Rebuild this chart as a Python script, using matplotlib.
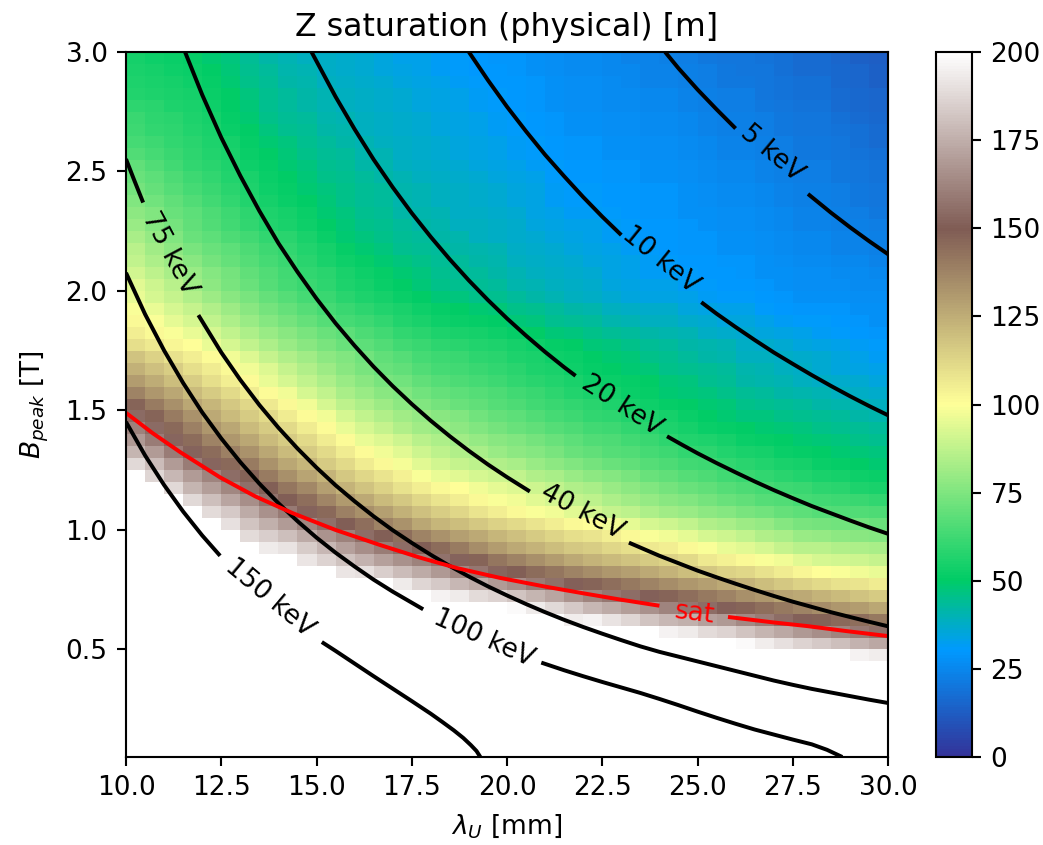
"""Z saturation map with photon energy contours and the saturation limit."""

import numpy as np
import matplotlib
matplotlib.use("Agg")
import matplotlib.pyplot as plt

# Cell values [m], top row (B = 2.95-3.00 T) first, columns lambda_U = 10-30 mm
# in 0.5 mm steps. Everything below the last row is off the colour scale (white).
Z_ROWS = [
    [54,53,52,51,49,47,44,42,40,39,38,37,36,35,33,33,32,31,30,29,29,28,27,26,26,25,24,24,23,22,21,20,20,19,18,17,17,15,14,13],
    [55,54,53,52,50,48,45,43,41,40,38,37,36,35,34,33,32,31,30,30,29,28,27,26,26,25,25,24,24,23,22,21,20,20,18,17,17,16,15,14],
    [56,55,54,53,51,49,46,44,42,41,39,38,37,36,35,34,33,32,31,30,30,29,28,27,27,26,25,24,24,23,22,21,21,20,19,18,18,16,15,14],
    [57,56,55,54,52,50,47,45,43,42,40,39,38,37,36,35,34,33,32,31,30,29,28,27,27,26,26,25,25,24,23,22,22,20,19,18,18,17,16,15],
    [59,58,56,55,53,50,48,45,43,42,40,39,38,37,36,35,34,33,32,31,30,29,28,27,27,26,26,25,25,24,23,22,22,21,20,19,19,17,16,15],
    [61,59,58,56,54,51,49,46,44,43,41,40,39,38,37,36,35,34,33,32,31,30,29,28,28,27,27,26,26,25,24,23,23,22,21,20,20,18,17,16],
    [62,60,59,57,55,52,50,47,45,44,42,41,39,38,37,36,35,34,33,32,31,30,29,28,28,27,27,26,26,25,24,23,23,22,21,20,20,19,18,17],
    [64,62,60,58,56,54,51,49,47,45,43,42,40,39,38,37,36,35,34,33,32,31,30,29,29,28,28,27,27,26,25,24,24,23,22,21,21,20,18,17],
    [66,64,61,59,57,55,52,50,48,46,44,43,41,40,38,37,36,35,34,33,32,31,30,29,29,28,28,27,27,26,25,24,24,23,22,21,21,20,19,18],
    [69,66,63,60,58,56,53,51,49,47,45,44,42,41,39,38,37,36,35,34,33,32,31,30,30,29,29,28,28,27,26,25,25,24,23,22,22,21,20,19],
    [71,68,65,62,60,57,55,52,50,48,46,45,43,42,40,39,38,37,36,35,34,33,31,30,30,29,29,28,28,27,26,25,25,24,23,22,22,21,20,19],
    [73,70,67,64,61,58,56,53,51,49,47,46,44,43,41,40,39,38,37,36,35,34,32,31,31,30,30,29,29,28,27,26,26,25,24,23,23,22,21,20],
    [75,72,69,66,63,60,57,54,52,50,48,46,44,43,41,40,39,38,37,36,35,34,32,31,31,30,30,29,29,28,27,26,26,25,24,23,23,22,21,20],
    [78,75,71,68,65,62,59,56,54,52,49,47,45,44,42,41,40,38,38,37,36,34,33,32,32,31,30,29,29,28,28,27,27,26,25,24,24,23,22,21],
    [80,76,73,69,66,63,60,57,55,53,50,48,46,45,43,42,41,39,39,38,37,35,34,33,33,32,31,30,30,29,28,27,27,26,25,24,24,23,23,22],
    [83,79,75,71,68,65,63,60,58,55,52,49,47,46,44,43,42,41,39,38,37,36,35,34,33,32,31,30,30,29,29,28,28,27,26,25,25,24,24,23],
    [86,82,78,74,71,68,65,62,60,57,54,51,49,47,45,44,43,42,41,40,38,37,36,35,34,33,32,31,30,29,29,28,28,27,26,25,25,24,24,23],
    [88,84,81,77,73,70,67,64,61,58,55,53,51,49,47,46,44,43,42,41,39,38,37,36,35,34,33,32,31,30,30,29,29,28,27,26,26,25,25,24],
    [91,87,83,80,76,73,69,66,63,60,58,55,53,51,49,47,45,44,43,42,40,39,38,37,36,34,33,32,32,31,30,30,29,28,28,27,27,26,26,25],
    [94,90,86,82,78,74,71,67,64,61,59,56,54,52,50,48,46,45,44,43,41,40,39,38,37,35,34,33,33,32,31,30,30,29,28,27,27,27,26,26],
    [96,92,89,85,81,77,74,70,67,64,61,58,56,54,52,50,48,47,46,45,43,42,40,39,38,36,35,34,34,33,32,31,31,30,29,28,28,28,27,27],
    [99,96,92,89,85,81,77,73,70,67,64,61,59,57,55,53,51,50,49,48,46,45,43,42,41,39,38,37,37,35,34,33,33,31,30,29,29,29,28,28],
    [102,99,95,92,88,84,80,76,73,70,67,64,62,60,57,55,53,52,51,50,48,47,45,44,43,41,40,39,39,37,36,35,35,33,32,31,31,30,29,28],
    [105,102,99,96,92,88,84,80,77,74,71,68,65,63,60,58,56,55,54,53,51,50,48,47,46,44,43,42,41,40,38,37,36,35,34,33,32,31,30,29],
    [110,107,103,100,96,92,88,84,80,77,74,71,68,66,63,61,59,58,57,56,54,53,51,50,48,47,46,44,43,42,41,40,38,37,36,35,34,33,32,31],
    [118,114,109,105,101,97,93,89,85,82,78,75,72,69,67,64,62,61,59,58,56,55,53,52,50,49,48,46,45,43,42,41,39,39,38,37,36,35,33,32],
    [124,119,115,110,106,102,97,93,89,85,81,77,74,71,69,66,64,63,61,60,58,56,55,53,51,50,49,48,46,45,44,43,41,40,39,38,36,35,34,33],
    [130,125,120,115,110,105,101,96,92,88,84,80,77,74,72,69,67,65,64,62,60,58,57,55,53,52,51,50,48,47,45,44,42,41,40,39,38,37,36,35],
    [138,132,127,121,116,111,106,101,97,92,88,83,80,77,75,72,70,68,67,65,63,61,59,57,55,54,52,51,49,48,47,46,44,43,42,41,40,39,38,37],
    [147,140,134,127,122,117,112,107,102,97,92,87,84,81,78,75,73,71,69,67,65,63,61,60,58,56,54,53,51,50,49,48,46,45,44,43,42,41,40,39],
    [154,147,140,133,126,121,116,111,106,101,97,92,88,85,82,79,77,75,72,70,68,66,64,62,60,59,57,56,54,52,50,49,47,47,46,45,44,43,42,41],
    [161,154,146,139,132,127,121,116,111,106,101,96,92,89,85,82,80,78,75,73,71,69,67,65,63,62,60,58,56,54,52,51,50,49,48,47,46,45,44,43],
    [168,160,153,145,138,132,127,121,116,111,106,101,96,93,90,86,84,82,79,77,75,73,71,68,66,65,63,61,59,57,56,54,52,51,50,49,48,47,46,45],
    [177,169,160,152,145,139,133,127,121,116,111,106,101,97,94,90,87,85,83,80,78,76,74,71,69,67,66,64,62,60,59,57,55,54,52,51,50,49,48,47],
    [188,179,169,160,153,146,140,133,127,122,116,111,106,102,98,94,91,89,87,85,83,80,78,75,73,71,69,67,65,63,62,60,58,57,55,54,52,51,50,49],
    [200,187,178,169,162,155,148,140,134,128,123,117,112,108,104,99,96,94,92,90,88,85,83,80,78,76,74,71,69,67,65,63,61,60,58,57,55,54,53,52],
    [200,200,188,177,170,163,156,149,142,136,129,123,118,114,109,105,102,100,97,95,93,90,88,85,83,80,78,75,73,71,69,67,65,64,62,61,59,58,56,55],
    [200,200,200,188,180,172,165,157,150,144,137,131,126,121,117,112,108,105,102,99,97,94,92,89,87,84,82,79,77,75,73,71,69,67,66,64,63,62,61,60],
    [200,200,200,200,189,183,174,166,159,152,146,139,134,129,124,119,115,112,108,105,102,99,97,94,92,89,87,84,82,80,78,76,74,72,70,68,67,66,66,65],
    [200,200,200,200,200,190,182,175,169,163,156,150,144,138,133,127,122,120,117,114,111,108,105,102,100,97,95,92,90,88,85,83,81,79,76,74,73,72,72,71],
    [200,200,200,200,200,200,189,185,180,174,167,161,155,149,144,138,133,129,126,122,119,116,113,110,108,105,102,99,97,95,92,90,88,85,83,80,79,78,77,76],
    [200,200,200,200,200,200,200,193,191,184,178,171,165,160,155,150,145,140,135,130,126,123,120,117,115,112,110,107,105,102,99,96,94,92,89,86,86,85,84,83],
    [200]*8 + [200,192,186,181,176,171,166,161,157,152,147,142,138,134,130,126,123,121,118,116,114,111,107,104,102,99,97,94,92,91,90,89],
    [200]*8 + [200,200,200,192,190,185,179,174,168,163,158,153,149,145,142,138,135,132,129,126,123,120,117,114,112,109,106,103,100,99,97,96],
    [200]*12 + [200,200,193,187,183,178,174,169,165,160,156,151,147,144,141,138,135,132,129,126,123,120,117,114,111,109,108,106],
    [200]*12 + [200,200,200,200,196,193,189,186,182,177,172,167,162,158,155,151,147,144,141,138,134,132,128,126,123,121,118,116],
    [200]*20 + [198,193,188,183,178,174,170,166,162,158,155,151,147,144,141,138,135,132,130,127],
    [200]*20 + [200,200,200,194,196,191,187,182,178,175,171,168,164,160,155,151,148,146,144,141],
    [200]*24 + [200,200,200,200,196,193,189,186,182,177,173,168,165,162,159,156],
    [200]*32 + [198,194,190,186,183,180,176,173],
    [200]*38 + [196,194],
]
LAMBDA_EDGES = np.linspace(10, 30, 41)
B_EDGES = np.linspace(0.45, 3.0, 52)

# Energy contours, one list per piece (the label sits in the break)
KEV5_A = ([24.15, 24.5, 25, 25.5, 26], [3.0, 2.932, 2.843, 2.76, 2.68])
KEV5_B = ([27.9, 28.5, 29, 29.5, 30], [2.406, 2.328, 2.267, 2.209, 2.154])
KEV10_A = ([19, 19.5, 20, 20.5, 21, 21.5, 22, 22.5, 23],
           [3.0, 2.882, 2.771, 2.668, 2.57, 2.48, 2.393, 2.311, 2.234])
KEV10_B = ([25.1, 25.5, 26, 26.5, 27, 27.5, 28, 28.5, 29, 29.5, 30],
           [1.953, 1.905, 1.849, 1.795, 1.743, 1.695, 1.648, 1.603, 1.56, 1.519, 1.48])
KEV20_A = ([14.87, 15.5, 16, 16.5, 17, 17.5, 18, 18.5, 19, 19.5, 20, 20.5, 21, 21.5, 21.8],
           [3.0, 2.813, 2.677, 2.55, 2.434, 2.326, 2.226, 2.132, 2.044, 1.962, 1.885, 1.813,
            1.745, 1.681, 1.645])
KEV20_B = ([24.2, 24.6, 25, 25.5, 26, 26.5, 27, 27.5, 28, 28.5, 29, 29.5, 30],
           [1.392, 1.356, 1.321, 1.28, 1.241, 1.203, 1.167, 1.133, 1.1, 1.07, 1.04, 1.011, 0.984])
KEV40_A = ([11.55, 12, 12.5, 13, 13.5, 14, 14.5, 15, 15.5, 16, 16.5, 17, 17.5, 18, 18.5, 19,
            19.5, 20, 20.6],
           [3.0, 2.821, 2.642, 2.482, 2.335, 2.2, 2.08, 1.968, 1.865, 1.771, 1.683, 1.602,
            1.527, 1.457, 1.392, 1.331, 1.274, 1.221, 1.161])
KEV40_B = ([23.2, 24, 24.5, 25, 25.5, 26, 26.5, 27, 27.5, 28, 28.5, 29, 29.5, 30],
           [0.947, 0.892, 0.861, 0.83, 0.802, 0.775, 0.749, 0.724, 0.7, 0.678, 0.656, 0.636,
            0.616, 0.597])
KEV75_A = ([10, 10.2, 10.45], [2.552, 2.47, 2.37])
KEV75_B = ([11.9, 12.5, 13, 13.5, 14, 14.5, 15, 15.5, 16, 16.5, 17, 17.5, 18, 18.5, 19, 19.5,
            20, 20.5, 21, 21.5, 22, 22.5, 23, 23.5, 24, 24.5, 25, 25.5, 26, 26.5, 27, 27.5,
            28, 28.5, 29, 29.5, 30],
           [1.899, 1.743, 1.628, 1.523, 1.428, 1.341, 1.261, 1.187, 1.12, 1.057, 0.999, 0.946,
            0.896, 0.849, 0.805, 0.764, 0.726, 0.69, 0.656, 0.624, 0.594, 0.566, 0.539, 0.513,
            0.49, 0.47, 0.45, 0.43, 0.41, 0.39, 0.37, 0.352, 0.335, 0.32, 0.305, 0.29, 0.276])
KEV100_A = ([10, 10.5, 11, 11.5, 12, 12.5, 13, 13.5, 14, 14.5, 15, 15.5, 16, 16.5, 17, 17.4, 17.8],
            [2.076, 1.903, 1.751, 1.615, 1.492, 1.383, 1.284, 1.194, 1.112, 1.037, 0.968, 0.905,
             0.847, 0.792, 0.742, 0.705, 0.668])
KEV100_B = ([20.9, 21.5, 22, 22.5, 23, 23.5, 24, 24.5, 25, 25.5, 26, 26.5, 27, 27.5, 28, 28.4, 28.8],
            [0.445, 0.413, 0.388, 0.364, 0.341, 0.318, 0.293, 0.267, 0.24, 0.214, 0.189, 0.165,
             0.144, 0.123, 0.103, 0.08, 0.05])
KEV150_A = ([10, 10.5, 11, 11.5, 12, 12.47], [1.452, 1.312, 1.188, 1.077, 0.977, 0.892])
KEV150_B = ([15.14, 15.5, 16, 16.5, 17, 17.5, 18, 18.3, 18.6, 18.85, 19.05, 19.2, 19.3],
            [0.531, 0.494, 0.441, 0.388, 0.336, 0.284, 0.231, 0.197, 0.162, 0.13, 0.1, 0.075, 0.05])
ENERGY_PIECES = [KEV5_A, KEV5_B, KEV10_A, KEV10_B, KEV20_A, KEV20_B, KEV40_A, KEV40_B,
                 KEV75_A, KEV75_B, KEV100_A, KEV100_B, KEV150_A, KEV150_B]

# Saturation limit
SAT_A = ([10, 10.7, 11.42, 12.47, 13.4, 14.38, 15.5, 16.67, 17.7, 18.7, 19.8, 21, 22, 23, 24.0],
         [1.49, 1.405, 1.326, 1.22, 1.14, 1.07, 1.0, 0.937, 0.885, 0.84, 0.8, 0.763, 0.735, 0.708, 0.683])
SAT_B = ([25.8, 27, 27.87, 28.9, 30], [0.636, 0.613, 0.598, 0.577, 0.556])

# text, lambda, B, rotation
ENERGY_LABELS = [
    ("5 keV", 26.95, 2.577, -40),
    ("10 keV", 24.02, 2.13, -39),
    ("20 keV", 23.02, 1.52, -33),
    ("40 keV", 21.97, 1.075, -28),
    ("75 keV", 11.15, 2.155, -62),
    ("100 keV", 19.4, 0.548, -24),
    ("150 keV", 13.78, 0.715, -40),
]

W, H = 1043, 845
DPI = 190
fig = plt.figure(figsize=(W / DPI, H / DPI), dpi=DPI)
ax = fig.add_axes([126 / W, 1 - 757 / H, 762 / W, 705 / H])
cax = fig.add_axes([936 / W, 1 - 757 / H, 36 / W, 705 / H])

z = np.array(Z_ROWS)[::-1]
mesh = ax.pcolormesh(LAMBDA_EDGES, B_EDGES, z, cmap="terrain", vmin=0, vmax=200)

for xs, ys in ENERGY_PIECES:
    ax.plot(xs, ys, color="k", linewidth=1.5, solid_capstyle="butt")
for text, x, y, rot in ENERGY_LABELS:
    ax.text(x, y, text, fontsize=10, color="k", rotation=rot, rotation_mode="anchor",
            ha="center", va="center")

for xs, ys in (SAT_A, SAT_B):
    ax.plot(xs, ys, color="r", linewidth=1.5, solid_capstyle="butt")
ax.text(24.93, 0.652, "sat", fontsize=10, color="r", rotation=-7, rotation_mode="anchor",
        ha="center", va="center")

ax.set_xlim(10, 30)
ax.set_ylim(0.05, 3.0)
ax.set_xticks(np.arange(10, 30.1, 2.5))
ax.set_yticks(np.arange(0.5, 3.01, 0.5))
ax.set_xlabel(r"$\lambda_U$ [mm]")
ax.set_ylabel(r"$B_{peak}$ [T]", labelpad=5.5)
ax.set_title("Z saturation (physical) [m]")

cb = fig.colorbar(mesh, cax=cax)
cb.set_ticks(np.arange(0, 201, 25))

fig.savefig("out.png", dpi=DPI)
